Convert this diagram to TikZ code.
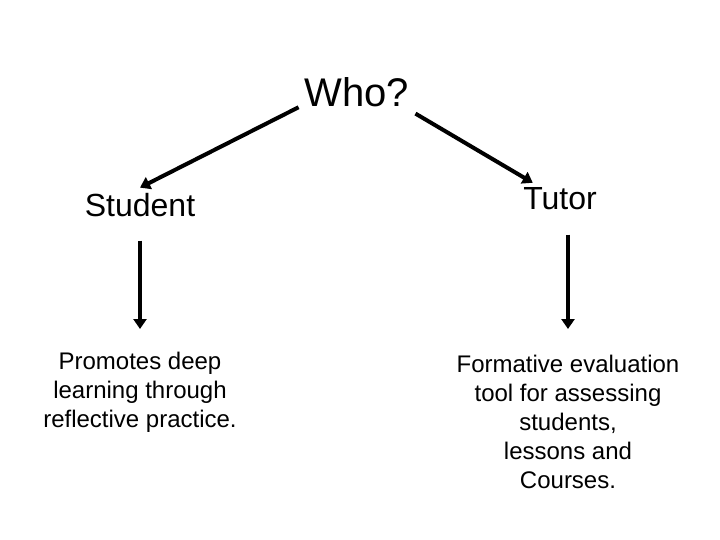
\documentclass[tikz,border=0pt]{standalone}
\usepackage{fontspec}
\setmainfont{Liberation Sans}
\usetikzlibrary{arrows.meta}
\tikzset{
  big/.style={font=\fontsize{40}{48}\selectfont},
  mid/.style={font=\fontsize{32}{38}\selectfont},
  small/.style={font=\fontsize{24}{29}\selectfont,align=center},
  arr/.style={->,line width=4pt}
}
\begin{document}
\begin{tikzpicture}[x=1pt,y=-1pt,>={Triangle[width=13pt,length=10pt]}]
\useasboundingbox(0,0)rectangle(720,540);
%question
\node[big,inner sep=6pt,anchor=base](who) at (357,107){Who?};
\node[mid,inner sep=5pt,anchor=base](student) at (140,216){Student};
\node[mid,inner sep=5pt,anchor=base](tutor) at (560,210){Tutor};
%answers
\node[small,inner sep=0pt,anchor=north](promo) at (140,351.5){Promotes deep\\learning through\\reflective practice.};
\node[small,inner sep=0pt,anchor=north](form) at (568,354.5){Formative evaluation\\tool for assessing\\students,\\lessons and\\Courses.};
%arrows
\draw[arr](who.194)--(student.north);
\draw[arr](who.south east)--(tutor.149);
\draw[arr,shorten <=19pt,shorten >=22.5pt](student.south -| promo.north)--(promo.north);
\draw[arr,shorten <=19pt,shorten >=25.5pt](tutor.south -| form.north)--(form.north);
\end{tikzpicture}
\end{document}
